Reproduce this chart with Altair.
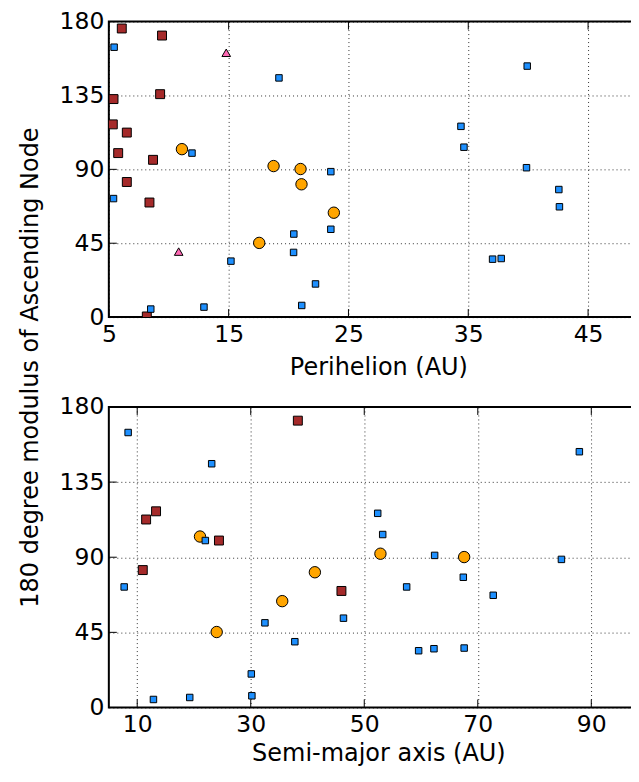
import altair as alt
import pandas as pd

# ---------------- data ----------------
# Top panel: perihelion (AU) vs 180-degree modulus of ascending node
blue_q = [5.44, 5.39, 11.94, 19.2, 8.5, 12.94, 15.19, 20.44, 20.42, 22.25, 21.1,
          23.53, 23.53, 39.92, 34.39, 34.64, 39.86, 42.56, 42.61, 37.03, 37.75]
blue_node_q = [164.4, 72.2, 99.9, 145.7, 4.9, 6.1, 34.1, 50.6, 39.4, 20.2, 7.1,
               88.6, 53.5, 152.9, 116.2, 103.5, 91.0, 77.7, 67.2, 35.3, 35.7]
red_q = [6.08, 9.44, 5.39, 9.28, 5.33, 6.5, 5.78, 8.69, 6.5, 8.39, 8.17]
red_node_q = [175.8, 171.5, 132.8, 135.8, 117.4, 112.4, 99.9, 95.8, 82.3, 69.8, 0.4]
orange_q = [11.1, 18.75, 21.0, 21.08, 17.55, 23.78]
orange_node_q = [102.3, 92.0, 90.2, 80.9, 45.2, 63.6]
pink_q = [14.8, 10.83]
pink_node_q = [161.0, 39.9]

# Bottom panel: semi-major axis (AU) vs 180-degree modulus of ascending node
blue_a = [8.40, 23.12, 22.0, 7.7, 32.5, 37.77, 30.1, 30.2, 12.86, 19.25, 87.9,
          52.37, 53.25, 62.4, 84.74, 67.45, 57.47, 72.72, 46.34, 59.58, 62.28, 67.6]
blue_node_a = [164.7, 146.0, 100.0, 72.2, 50.7, 39.4, 20.1, 7.0, 4.8, 6.0, 153.2,
               116.3, 103.6, 91.1, 88.7, 78.0, 72.2, 67.2, 53.5, 34.0, 35.2, 35.6]
red_a = [38.3, 13.32, 11.57, 24.4, 10.98, 45.98]
red_node_a = [171.8, 117.5, 112.6, 100.0, 82.3, 69.8]
orange_a = [21.06, 24.0, 35.55, 41.3, 52.85, 67.6]
orange_node_a = [102.4, 45.2, 63.7, 81.0, 92.1, 90.1]

q_ticks = [5, 15, 25, 35, 45]
a_ticks = [10, 30, 50, 70, 90]
node_ticks = [0, 45, 90, 135, 180]

W = 530
FONT = "DejaVu Sans"


def panel(xdomain, xticks, xtitle, xtitle_y, ytitle, series, H):
    x_enc = alt.X("x:Q", scale=alt.Scale(domain=xdomain, nice=False, zero=False),
                  axis=alt.Axis(values=xticks, title=xtitle, titleX=270, titleY=xtitle_y,
                                titleAlign="center", titleBaseline="alphabetic"))
    if ytitle:
        yaxis = alt.Axis(values=node_ticks, title=ytitle, titleX=-71, titleY=346,
                         titleAngle=270, titleAlign="center", titleBaseline="alphabetic")
    else:
        yaxis = alt.Axis(values=node_ticks, title=None)
    y_enc = alt.Y("node:Q", scale=alt.Scale(domain=[0, 180], nice=False, zero=False), axis=yaxis)

    layers = []
    # inward ticks (bottom, top, left) like the matplotlib frame
    xt = pd.DataFrame({"x": xticks})
    yt = pd.DataFrame({"node": node_ticks})
    layers.append(alt.Chart(xt).mark_rule(color="black", strokeWidth=1).encode(
        x=x_enc, y=alt.value(H), y2=alt.value(H - 8)))
    layers.append(alt.Chart(xt).mark_rule(color="black", strokeWidth=1).encode(
        x=x_enc, y=alt.value(0), y2=alt.value(8)))
    layers.append(alt.Chart(yt).mark_rule(color="black", strokeWidth=1).encode(
        y=y_enc, x=alt.value(0), x2=alt.value(8)))

    for xs, ys, shape, fill, size in series:
        df = pd.DataFrame({"x": xs, "node": ys})
        layers.append(alt.Chart(df).mark_point(
            shape=shape, filled=True, fill=fill, stroke="black", strokeWidth=1,
            size=size, opacity=1, fillOpacity=1, strokeOpacity=1, clip=True
        ).encode(x=x_enc, y=y_enc))
    return alt.layer(*layers).properties(width=W, height=H)


top = panel([5, 5 + W / 12.0], q_ticks, "Perihelion (AU)", 57,
            "180 degree modulus of Ascending Node",
            [(red_q, red_node_q, "square", "#A52A2A", 80),
             (orange_q, orange_node_q, "circle", "#FFA500", 130),
             (pink_q, pink_node_q, "triangle-up", "#FF69B4", 75),
             (blue_q, blue_node_q, "square", "#1E90FF", 42)], 296)

bottom = panel([5, 5 + W / 5.685], a_ticks, "Semi-major axis (AU)", 53, None,
               [(red_a, red_node_a, "square", "#A52A2A", 80),
                (orange_a, orange_node_a, "circle", "#FFA500", 130),
                (blue_a, blue_node_a, "square", "#1E90FF", 42)], 301)

chart = alt.vconcat(top, bottom, spacing=90).properties(
    bounds="flush",
    padding={"left": 9, "top": 0, "right": -8, "bottom": 1},
    background="white",
).configure_view(
    stroke="black", strokeWidth=2
).configure_axis(
    grid=True, gridColor="black", gridDash=[1, 3], gridOpacity=0.8, gridWidth=1,
    domain=False, ticks=False, tickSize=0,
    labelFont=FONT, labelFontSize=23.5, labelColor="black",
    labelFlush=False, labelOverlap=False,
    titleFont=FONT, titleFontSize=24, titleFontWeight="normal", titleColor="black",
).configure_axisX(
    labelBaseline="alphabetic", labelPadding=24
).configure_axisY(
    labelPadding=5
)

chart.save("out.html", embed_options={"renderer": "svg", "actions": False})
